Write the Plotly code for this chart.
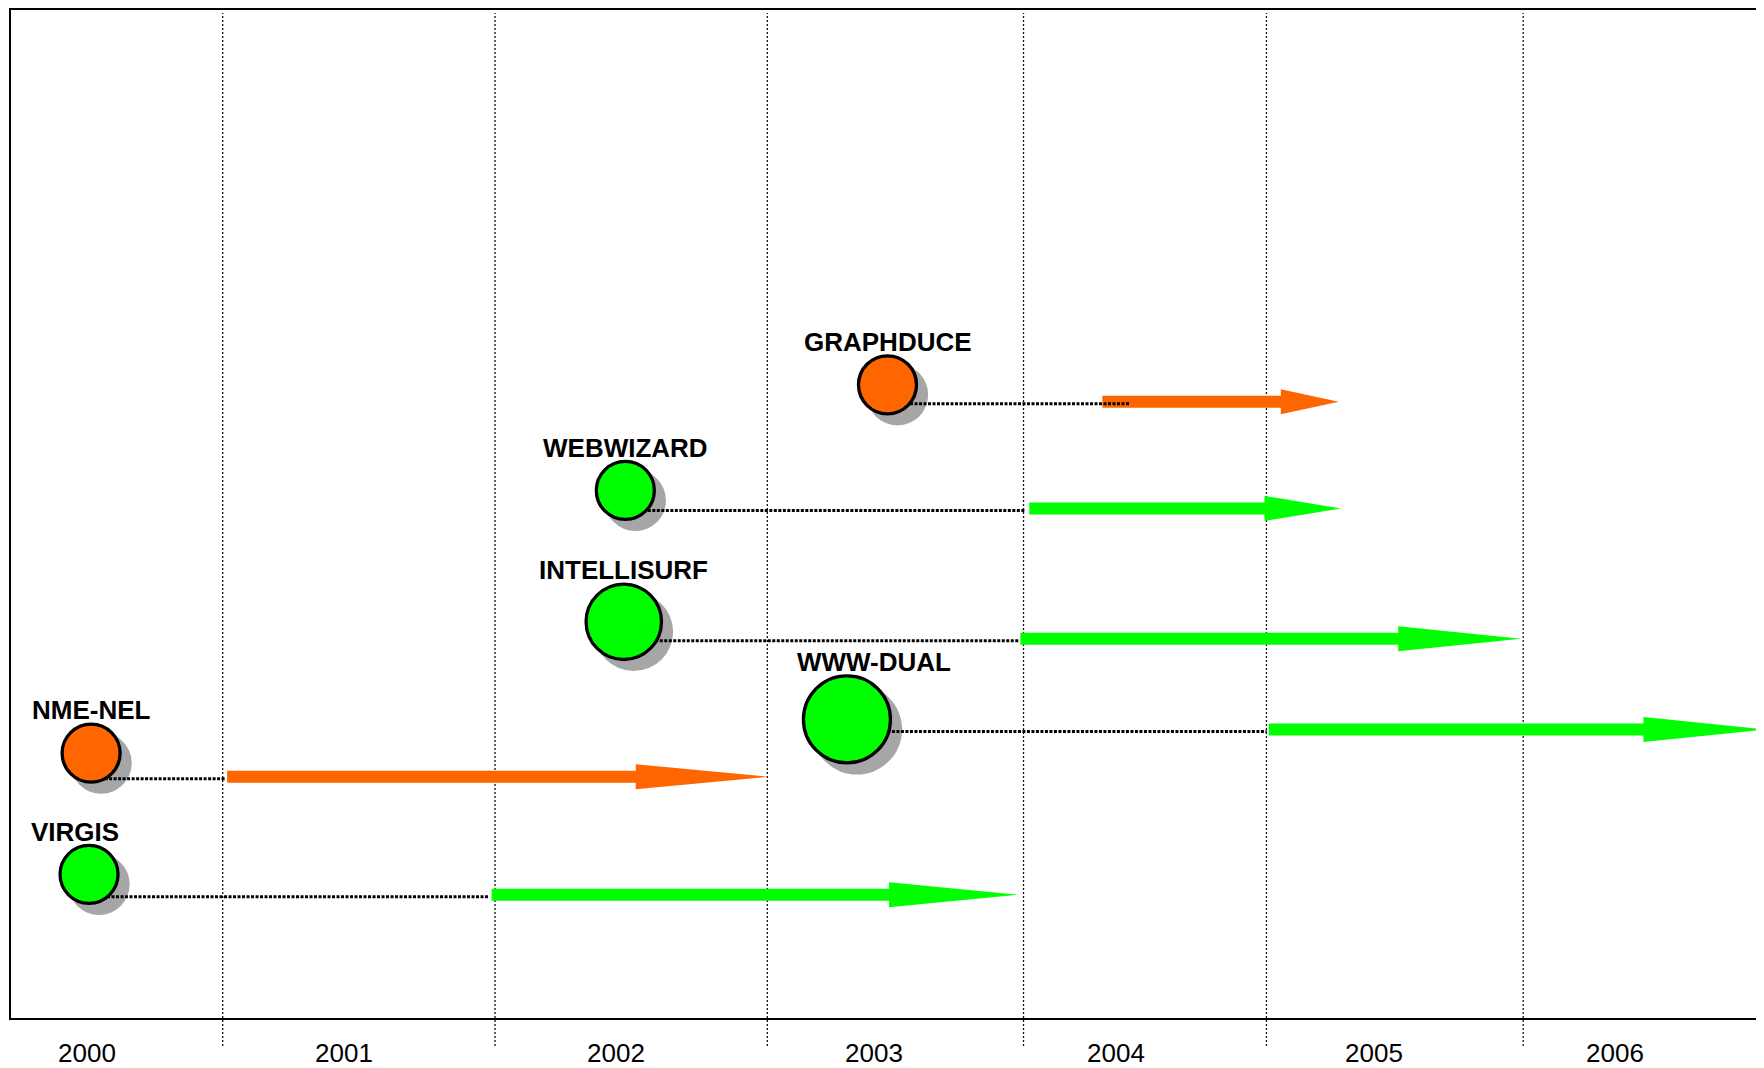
import plotly.graph_objects as go

# ---------------- data ----------------
projects = ["GRAPHDUCE", "WEBWIZARD", "INTELLISURF", "WWW-DUAL", "NME-NEL", "VIRGIS"]
group = ["orange", "green", "green", "green", "orange", "green"]
milestone_x = [2003.556, 2002.548, 2002.542, 2003.400, 2000.494, 2000.486]
milestone_y = [6.263, 5.218, 3.919, 2.953, 2.620, 1.421]
track_y = [6.096, 5.040, 3.752, 2.853, 2.386, 1.220]
link_end = [2004.490, 2004.088, 2004.062, 2005.014, 2001.009, 2002.025]
phase_start = [2004.382, 2004.101, 2004.067, 2005.022, 2001.017, 2002.034]
phase_end = [2005.291, 2005.299, 2005.991, 2006.930, 2003.098, 2004.058]
weight = [1.0, 1.0, 1.3, 1.5, 1.0, 1.0]

year_labels = ["2000", "2001", "2002", "2003", "2004", "2005", "2006"]
year_label_x = [2000.480, 2001.467, 2002.514, 2003.504, 2004.434, 2005.425, 2006.355]
year_bounds = [2001.0, 2002.047, 2003.094, 2004.079, 2005.013, 2006.0]

# ---------------- styles / layout ----------------
# the page body adds an 8px margin, so the figure is offset accordingly
W, H = 1756, 1060
M_L, M_R, M_T, M_B = 3, 0, 0, 50
X_RANGE = [2000.186, 2006.926]
Y_RANGE = [0, 9.970]
plot_w = W - M_L - M_R
plot_h = H - M_T - M_B
px_x = plot_w / (X_RANGE[1] - X_RANGE[0])   # px per year
px_y = plot_h / (Y_RANGE[1] - Y_RANGE[0])   # px per y-unit

COLORS = {"orange": "#FF6600", "green": "#00FF00"}
BASE_SIZE = 58
BORDER = 3.3
SHADOW_OFF = 10
SHAFT_HALF = 6
HEAD_HALF = 12.5
HEAD_FRAC = 0.245
FONT = "Liberation Sans, Arial, sans-serif"
label_xshift = {"WWW-DUAL": 27, "VIRGIS": -14}

fig = go.Figure()

# arrows (phases)
for i, name in enumerate(projects):
    x0, x1, y = phase_start[i], phase_end[i], track_y[i]
    xh = x1 - HEAD_FRAC * (x1 - x0)
    s = SHAFT_HALF / px_y
    h = HEAD_HALF / px_y
    xs = [x0, xh, xh, x1, xh, xh, x0, x0]
    ys = [y - s, y - s, y - h, y, y + h, y + s, y + s, y - s]
    fig.add_trace(go.Scatter(x=xs, y=ys, mode="lines", fill="toself",
                             fillcolor=COLORS[group[i]], line=dict(width=0),
                             hoverinfo="skip", showlegend=False))

# shadows
sizes = [BASE_SIZE * w for w in weight]
fig.add_trace(go.Scatter(
    x=[mx + SHADOW_OFF / px_x for mx in milestone_x],
    y=[my - SHADOW_OFF / px_y for my in milestone_y],
    mode="markers",
    marker=dict(size=[s + BORDER for s in sizes], color="#a6a6a6",
                opacity=1, line=dict(width=0)),
    hoverinfo="skip", showlegend=False))

# dotted connectors
lx, ly = [], []
for i in range(len(projects)):
    yy = track_y[i] - 2 / px_y
    lx += [milestone_x[i], link_end[i], None]
    ly += [yy, yy, None]
fig.add_trace(go.Scatter(x=lx, y=ly, mode="lines",
                         line=dict(color="black", width=3, dash="3px,1.5px"),
                         hoverinfo="skip", showlegend=False))

# milestone circles
fig.add_trace(go.Scatter(
    x=milestone_x, y=milestone_y, mode="markers",
    marker=dict(size=sizes, color=[COLORS[g] for g in group], opacity=1,
                line=dict(color="black", width=BORDER)),
    text=projects, hoverinfo="text", showlegend=False))

annotations = []
for i, name in enumerate(projects):
    r = sizes[i] / 2 + BORDER / 2
    annotations.append(dict(
        x=milestone_x[i], y=milestone_y[i], xref="x", yref="y",
        text="<b>%s</b>" % name, showarrow=False,
        xanchor="center", yanchor="middle",
        xshift=label_xshift.get(name, 0), yshift=r + 12,
        font=dict(family=FONT, size=26, color="black")))

for lab, xv in zip(year_labels, year_label_x):
    annotations.append(dict(
        x=xv, y=0, xref="x", yref="paper", text=lab, showarrow=False,
        xanchor="center", yanchor="middle", yshift=-35,
        font=dict(family=FONT, size=26, color="black")))

shapes = []
for b in year_bounds:
    shapes.append(dict(type="line", xref="x", yref="paper",
                       x0=b, x1=b, y0=-28 / plot_h, y1=1 - 3 / plot_h,
                       line=dict(color="#111111", width=1.3, dash="2px,2px"),
                       layer="below"))

fig.update_layout(
    width=W, height=H,
    margin=dict(l=M_L, r=M_R, t=M_T, b=M_B, pad=0),
    paper_bgcolor="white", plot_bgcolor="white",
    showlegend=False,
    annotations=annotations, shapes=shapes,
    xaxis=dict(range=X_RANGE, showgrid=False, zeroline=False,
               showticklabels=False, ticks="", showline=True,
               linecolor="black", linewidth=2, mirror=True, fixedrange=True),
    yaxis=dict(range=Y_RANGE, showgrid=False, zeroline=False,
               showticklabels=False, ticks="", showline=True,
               linecolor="black", linewidth=2, mirror=False, fixedrange=True),
)

fig.write_html("out.html")
